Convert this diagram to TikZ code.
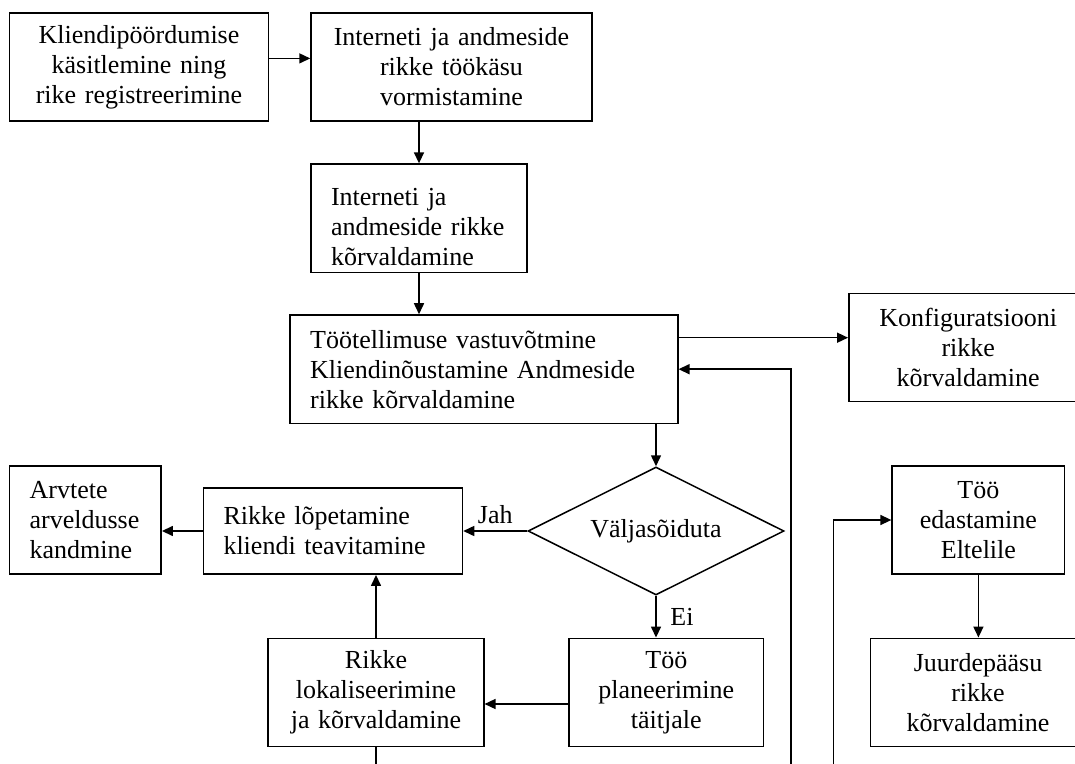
\documentclass[tikz,border=0pt]{standalone}
\usepackage{fontspec}
\setmainfont{Liberation Serif}
\usetikzlibrary{arrows.meta,shapes.geometric}
\tikzset{
  Kast/.style={draw, line width=0.75pt, inner xsep=10pt, inner ysep=0pt,
    align=center, font=\fontsize{13}{15}\selectfont},
  KastVasak/.style={Kast, align=left},
  Romb/.style={draw, shape=diamond, aspect=2, line width=0.75pt, inner sep=0pt,
    minimum width=128pt, minimum height=64pt, font=\fontsize{13}{15}\selectfont},
  Nool/.style={line width=0.75pt, -{Triangle[length=5.5pt,width=5pt]}},
  Silt/.style={font=\fontsize{13}{15}\selectfont}
}

\begin{document}
\begin{tikzpicture}[x=0.5pt,y=-0.5pt]

    \clip (0,0) rectangle (1075,764);

    \node[Kast, text width=109.6pt, minimum height=54.2pt] (Poordumine) at (139,67)
      {Kliendipöördumise\\käsitlemine ning\\rike registreerimine};
    \node[Kast, text width=120.5pt, minimum height=54.2pt] (Tookasu) at (451.5,67)
      {Interneti ja andmeside\\rikke töökäsu\\vormistamine};
    \node[KastVasak, text width=88pt, minimum height=54.3pt] (Korvaldus) at (419,218.4)
      {\rule{0pt}{17pt}Interneti ja\\andmeside rikke\\kõrvaldamine};
    \node[KastVasak, text width=173.8pt, minimum height=54.2pt] (Tellimus) at (484,369.2)
      {Töötellimuse vastuvõtmine\\Kliendinõustamine Andmeside\\rikke kõrvaldamine};
    \node[Kast, text width=99.4pt, minimum height=54.2pt] (Konf) at (968.2,347.5)
      {Konfiguratsiooni\\rikke\\kõrvaldamine};

    \node[Romb] (Otsus) at (656,531) {Väljasõiduta};
    \node[KastVasak, text width=109.5pt, minimum height=43.2pt] (Lopetamine) at (333,531)
      {Rikke lõpetamine\\kliendi teavitamine};
    \node[KastVasak, text width=55.8pt, minimum height=54pt] (Arved) at (85.4,520)
      {Arvtete\\arveldusse\\kandmine};
    \node[Kast, text width=77.2pt, minimum height=54.2pt] (Planeerimine) at (666.3,692.5)
      {Töö\\planeerimine\\täitjale};
    \node[Kast, text width=87.8pt, minimum height=54.2pt] (Lokaliseerimine) at (376,692.5)
      {Rikke\\lokaliseerimine\\ja kõrvaldamine};
    \node[Kast, text width=66.3pt, minimum height=54pt] (Elteline) at (978.4,520)
      {Töö\\edastamine\\Eltelile};
    \node[Kast, text width=87.7pt, minimum height=54.2pt] (Juurdepaas) at (978,692.5)
      {Juurdepääsu\\rikke\\kõrvaldamine};

    % vabad otsad pildi alaservas
    \coordinate (Tagasi) at (790.8,764);
    \coordinate (Edastus) at (833.4,764);
    \coordinate (LokAlla) at (376,764);
    \coordinate (KonfY) at ([yshift=15.75pt]Tellimus.east);
    \coordinate (PlanY) at ([yshift=-5.75pt]Planeerimine.west);

    \draw[Nool] ([yshift=4.3pt]Poordumine.east) -- ([yshift=4.3pt]Tookasu.west);
    \draw[Nool] (Tookasu.south -| Korvaldus.north) -- (Korvaldus.north);
    \draw[Nool] (Korvaldus.south) -- (Korvaldus.south |- Tellimus.north);
    \draw[Nool] (KonfY) -- (KonfY -| Konf.west);
    \draw[Nool] (Tagasi) |- (Tellimus.east);
    \draw[Nool] (Otsus.north |- Tellimus.south) -- (Otsus.north);
    \draw[Nool] (Otsus.west) -- (Lopetamine.east)
      node[Silt, midway, above] {Jah};
    \draw[Nool] (Lopetamine.west) -- (Lopetamine.west -| Arved.east);
    \draw[Nool] (Otsus.south) -- (Otsus.south |- Planeerimine.north)
      node[Silt, midway, right, xshift=3.5pt] {Ei};
    \draw[Nool] (PlanY) -- (PlanY -| Lokaliseerimine.east);
    \draw[Nool] (Lokaliseerimine.north) -- (Lokaliseerimine.north |- Lopetamine.south);
    \draw[line width=0.75pt] (Lokaliseerimine.south) -- (LokAlla);
    \draw[Nool] (Edastus) |- (Elteline.west);
    \draw[Nool] (Elteline.south) -- (Elteline.south |- Juurdepaas.north);
\end{tikzpicture}
\end{document}
